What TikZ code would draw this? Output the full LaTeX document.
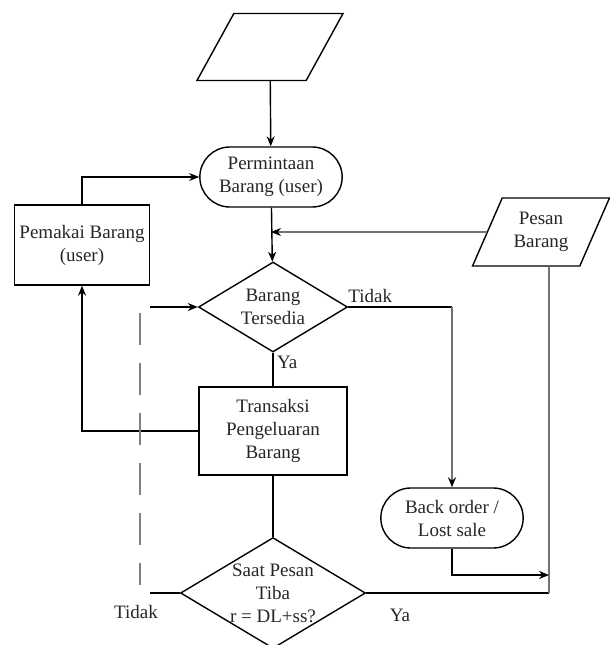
\documentclass[tikz,border=0pt]{standalone}
\usepackage{fontspec}
\setmainfont{Liberation Serif}
\usetikzlibrary{arrows.meta, shapes.geometric, shapes.misc, positioning}

\begin{document}
\begin{tikzpicture}[
        x=1pt, y=-1pt,
        >={Stealth[length=10pt, width=8pt]},
        every node/.style={font=\fontsize{19}{23}\selectfont, text=black!85},
        box/.style={
            draw,
            line width=1.4pt,
            minimum width=148pt,
            minimum height=88pt,
            align=center
        },
        term/.style={
            draw,
            line width=1.4pt,
            rounded rectangle,
            minimum width=149pt,
            minimum height=60pt,
            align=center
        },
        decision/.style={
            draw,
            line width=1.4pt,
            diamond,
            aspect=1.65,
            inner sep=0pt,
            align=center
        },
        data/.style={
            draw,
            line width=1.4pt,
            trapezium,
            trapezium left angle=63,
            trapezium right angle=117,
            trapezium stretches=true,
            align=center
        },
        line/.style={
            line width=1.4pt
        },
        arr/.style={
            ->,
            line width=1.4pt
        },
        grayline/.style={
            line width=2.2pt,
            draw=black!55
        },
        grayarr/.style={
            grayline,
            -{Stealth[length=10pt, width=8pt, black]}
        }
    ]
        \clip (0,0) rectangle (610,645);

        \node[data, minimum width=146pt, minimum height=67pt] (input) at (270,47) {};
        \node[term] (request) at (271,177) {Permintaan\\Barang (user)};
        \node[box, minimum width=135pt, minimum height=80pt] (user) at (82,245) {Pemakai Barang\\(user)};
        \node[data, minimum width=137pt, minimum height=68pt] (order) at (541,232) {Pesan\\Barang};
        \node[decision, minimum width=149pt, minimum height=90pt] (stock) at (273,307) {Barang\\Tersedia};
        \node[box] (issue) at (273,431) {Transaksi\\Pengeluaran\\Barang};
        \node[term] (backorder) at (452,518) {Back order /\\Lost sale};
        \node[decision, minimum width=185pt, minimum height=110pt] (arrive) at (273,593) {Saat Pesan\\Tiba\\r = DL+ss?};

        \coordinate (join) at (549,593);
        \coordinate (merge) at (549,575);
        \coordinate (loopbot) at (150,593);
        \coordinate (looptop) at (150,307);

        \draw[arr] (input) -- (request);
        \draw[arr] (user.north) |- (request.west);
        \draw[arr] (request) -- (stock);
        \draw[grayarr] (order.west) -- (request.south |- order.west);
        \draw[line] (stock) -- node[pos=0.3, right] {Ya} (issue);
        \draw[line] (stock.east) -- (backorder.north |- stock.east);
        \draw[grayarr] (backorder.north |- stock.east) -- (backorder.north);
        \node[anchor=south west, inner sep=0pt] (no1) at ([yshift=4pt]stock.east) {Tidak};
        \draw[arr] (issue.west) -| (user.south);
        \draw[line] (issue) -- (arrive);
        \draw[line] (arrive.east) -- (join);
        \draw[grayline] (join) -- (join |- order.south);
        \draw[arr] (backorder.south) |- (merge);
        \node (yes2) at (400,615) {Ya};

        % tidak -> kembali cek stok
        \draw[line] (arrive.west) -- (loopbot);
        \draw[line width=2.4pt, draw=black!50, dash pattern=on 32pt off 18pt] ([xshift=-10pt, yshift=-6pt]looptop) -- ([xshift=-10pt, yshift=8pt]loopbot);
        \draw[arr] (looptop) -- (stock.west);
        \node (no2) at (136,612) {Tidak};
\end{tikzpicture}
\end{document}
